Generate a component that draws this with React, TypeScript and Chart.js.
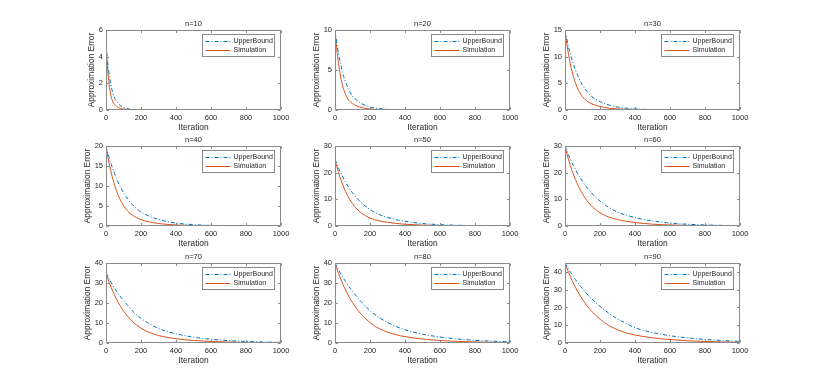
import React, { useEffect, useRef } from 'react';
import { Chart, registerables } from 'chart.js';

Chart.register(...registerables);

// ---------- data ----------
const ITERATIONS = [0, 5, 10, 20, 30, 40, 50, 60, 80, 100, 125, 150, 200, 250, 300, 350, 400, 500, 600, 700, 800, 900, 1000];
const X_TICKS = [0, 200, 400, 600, 800, 1000];
const PANEL_TITLES = ['n=10', 'n=20', 'n=30', 'n=40', 'n=50', 'n=60', 'n=70', 'n=80', 'n=90'];
const Y_MAX = [6, 10, 15, 20, 30, 30, 40, 40, 45];
const Y_STEP = [2, 5, 5, 5, 10, 10, 10, 10, 10];
const SERIES_NAMES = ['UpperBound', 'Simulation'];

const UPPER_N10 = [5.0, 4.2, 3.53, 2.49, 1.75, 1.24, 0.87, 0.65, 0.35, 0.19, 0.09, 0.04, 0.01, 0, 0, 0, 0, 0, 0, 0, 0, 0, 0];
const SIM_N10 = [5.0, 3.8, 2.9, 1.68, 0.98, 0.6, 0.4, 0.28, 0.13, 0.07, 0.03, 0.02, 0.01, 0, 0, 0, 0, 0, 0, 0, 0, 0, 0];
const UPPER_N20 = [10.0, 9.16, 8.39, 7.05, 5.92, 4.97, 4.17, 3.5, 2.47, 1.74, 1.21, 0.82, 0.37, 0.18, 0.08, 0.04, 0.02, 0.01, 0, 0, 0, 0, 0];
const SIM_N20 = [10.0, 8.7, 7.6, 5.8, 4.4, 3.35, 2.55, 1.95, 1.2, 0.8, 0.5, 0.32, 0.13, 0.06, 0.03, 0.02, 0.01, 0, 0, 0, 0, 0, 0];
const UPPER_N30 = [15.0, 14.15, 13.35, 11.88, 10.58, 9.41, 8.37, 7.46, 5.9, 4.67, 3.5, 2.61, 1.58, 0.95, 0.56, 0.33, 0.2, 0.08, 0.03, 0.02, 0.01, 0, 0];
const SIM_N30 = [15.0, 13.67, 12.48, 10.43, 8.7, 7.25, 6.03, 5.03, 3.5, 2.49, 1.68, 1.2, 0.65, 0.35, 0.2, 0.12, 0.07, 0.03, 0.02, 0.01, 0, 0, 0];
const UPPER_N40 = [20.0, 19.14, 18.32, 16.78, 15.38, 14.1, 12.92, 11.84, 9.94, 8.34, 6.7, 5.38, 3.48, 2.4, 1.63, 1.1, 0.74, 0.34, 0.16, 0.08, 0.04, 0.02, 0.01];
const SIM_N40 = [20.0, 18.66, 17.4, 15.2, 13.28, 11.6, 10.1, 8.8, 6.7, 5.1, 3.66, 2.72, 1.6, 1.0, 0.62, 0.4, 0.26, 0.12, 0.06, 0.03, 0.02, 0.01, 0];
const UPPER_N50 = [25.0, 24.15, 23.3, 21.73, 20.28, 18.9, 17.63, 16.43, 14.28, 12.43, 10.43, 8.75, 6.18, 4.35, 3.25, 2.38, 1.75, 0.93, 0.5, 0.27, 0.15, 0.09, 0.05];
const SIM_N50 = [25.0, 23.65, 22.38, 20.05, 18.0, 16.15, 14.5, 12.98, 10.43, 8.38, 6.38, 4.88, 3.0, 2.0, 1.38, 0.95, 0.65, 0.33, 0.18, 0.1, 0.06, 0.04, 0.03];
const UPPER_N60 = [30.0, 29.13, 28.29, 26.7, 25.17, 23.76, 22.41, 21.15, 18.81, 16.74, 14.46, 12.51, 9.33, 6.99, 5.22, 4.08, 3.15, 1.89, 1.11, 0.66, 0.4, 0.24, 0.15];
const SIM_N60 = [30.0, 28.65, 27.33, 24.96, 22.8, 20.85, 19.05, 17.4, 14.49, 12.06, 9.6, 7.65, 4.98, 3.36, 2.4, 1.76, 1.29, 0.69, 0.39, 0.23, 0.14, 0.09, 0.06];
const UPPER_N70 = [35.0, 34.13, 33.29, 31.68, 30.14, 28.67, 27.27, 25.94, 23.45, 21.25, 18.73, 16.2, 12.3, 9.5, 7.3, 5.7, 4.6, 2.9, 1.85, 1.2, 0.78, 0.5, 0.33];
const SIM_N70 = [35.0, 33.64, 32.31, 29.86, 27.65, 25.59, 23.66, 21.91, 18.76, 16.03, 13.2, 10.85, 7.39, 5.18, 3.75, 2.8, 2.14, 1.26, 0.75, 0.46, 0.29, 0.19, 0.13];
const UPPER_N80 = [40.0, 39.12, 38.28, 36.64, 35.08, 33.56, 32.16, 30.76, 28.2, 25.84, 23.16, 20.6, 16.2, 12.9, 10.3, 8.2, 6.6, 4.4, 3.0, 2.0, 1.35, 0.92, 0.62];
const SIM_N80 = [40.0, 38.64, 37.32, 34.8, 32.52, 30.4, 28.4, 26.56, 23.2, 20.2, 17.0, 14.36, 10.2, 7.32, 5.44, 4.12, 3.2, 2.0, 1.24, 0.8, 0.52, 0.35, 0.24];
const UPPER_N90 = [45.0, 44.15, 43.29, 41.63, 40.05, 38.52, 37.04, 35.64, 32.99, 30.51, 27.68, 25.11, 20.66, 16.8, 13.5, 11.0, 8.6, 5.9, 4.1, 2.9, 2.0, 1.4, 0.9];
const SIM_N90 = [45.0, 43.61, 42.3, 39.78, 37.44, 35.24, 33.17, 31.28, 27.72, 24.53, 21.06, 18.09, 13.37, 9.9, 7.47, 5.72, 4.5, 2.93, 1.94, 1.27, 0.86, 0.59, 0.41];

const UPPER = [UPPER_N10, UPPER_N20, UPPER_N30, UPPER_N40, UPPER_N50, UPPER_N60, UPPER_N70, UPPER_N80, UPPER_N90];
const SIM = [SIM_N10, SIM_N20, SIM_N30, SIM_N40, SIM_N50, SIM_N60, SIM_N70, SIM_N80, SIM_N90];

// ---------- layout / style ----------
const COL_LEFT = [106, 335, 565];
const ROW_TOP = [30, 146, 263];
const PLOT_W = 175;
const PLOT_H = 80;
const PAD_L = 45;
const PAD_T = 22;
const PAD_R = 20;
const PAD_B = 36;
const CANVAS_W = PLOT_W + PAD_L + PAD_R;
const CANVAS_H = PLOT_H + PAD_T + PAD_B;

const FONT = "'Liberation Sans', Arial, Helvetica, sans-serif";
const TICK_SIZE = 7.5;
const BLUE = '#0072BD';
const ORANGE = '#D95319';
const AXIS_COLOR = '#8a8a8a';
const TEXT_COLOR = '#262626';

const matlabPlugin = {
  id: 'matlab',
  afterDatasetsDraw(chart: any) {
    const { ctx, chartArea: a, scales } = chart;
    const opts = chart.options.plugins.matlab || {};
    ctx.save();
    // frame
    ctx.strokeStyle = AXIS_COLOR;
    ctx.lineWidth = 1;
    ctx.setLineDash([]);
    const L = Math.round(a.left) + 0.5;
    const R = Math.round(a.right) - 0.5;
    const T = Math.round(a.top) + 0.5;
    const B = Math.round(a.bottom) - 0.5;
    ctx.strokeRect(L, T, R - L, B - T);
    // inward ticks
    const tl = 2.5;
    ctx.beginPath();
    scales.x.ticks.forEach((t: any) => {
      const px = Math.round(scales.x.getPixelForValue(t.value)) + 0.5;
      ctx.moveTo(px, B); ctx.lineTo(px, B - tl);
      ctx.moveTo(px, T); ctx.lineTo(px, T + tl);
    });
    scales.y.ticks.forEach((t: any) => {
      const py = Math.round(scales.y.getPixelForValue(t.value)) + 0.5;
      ctx.moveTo(L, py); ctx.lineTo(L + tl, py);
      ctx.moveTo(R, py); ctx.lineTo(R - tl, py);
    });
    ctx.stroke();

    // legend
    const bw = 72, bh = 22;
    const bx = Math.round(a.right) - 7 - bw + 0.5;
    const by = Math.round(a.top) + 4 + 0.5;
    ctx.fillStyle = '#ffffff';
    ctx.fillRect(bx, by, bw, bh);
    ctx.strokeStyle = AXIS_COLOR;
    ctx.strokeRect(bx, by, bw, bh);
    const rows = [by + 7, by + 16];
    ctx.lineWidth = 1;
    ctx.strokeStyle = BLUE;
    ctx.setLineDash([4, 2, 1, 2]);
    ctx.beginPath(); ctx.moveTo(bx + 3, rows[0]); ctx.lineTo(bx + 28, rows[0]); ctx.stroke();
    ctx.strokeStyle = ORANGE;
    ctx.setLineDash([]);
    ctx.beginPath(); ctx.moveTo(bx + 3, rows[1]); ctx.lineTo(bx + 28, rows[1]); ctx.stroke();
    ctx.fillStyle = TEXT_COLOR;
    ctx.font = `7px ${FONT}`;
    ctx.textAlign = 'left';
    ctx.textBaseline = 'middle';
    ctx.fillText(SERIES_NAMES[0], bx + 31, rows[0]);
    ctx.fillText(SERIES_NAMES[1], bx + 31, rows[1]);

    // title
    ctx.font = `7.5px ${FONT}`;
    ctx.textAlign = 'center';
    ctx.fillText(opts.title || '', (a.left + a.right) / 2, a.top - 6);

    // y-label offset depends on widest tick label
    ctx.font = `${TICK_SIZE}px ${FONT}`;
    let maxW = 0;
    scales.y.ticks.forEach((t: any) => {
      const w = ctx.measureText(String(t.label ?? t.value)).width;
      if (w > maxW) maxW = w;
    });

    // axis titles
    ctx.font = `8.4px ${FONT}`;
    ctx.fillText('Iteration', (a.left + a.right) / 2, a.bottom + 18);
    ctx.save();
    ctx.translate(a.left - (3 + maxW + 3 + 3.8), (a.top + a.bottom) / 2);
    ctx.rotate(-Math.PI / 2);
    ctx.fillText('Approximation Error', 0, 0);
    ctx.restore();
    ctx.restore();
  },
};

function Panel({ idx }: { idx: number }) {
  const ref = useRef<HTMLCanvasElement | null>(null);
  const r = Math.floor(idx / 3);
  const c = idx % 3;
  useEffect(() => {
    if (!ref.current) return;
    const tickFont = { family: FONT, size: TICK_SIZE };
    const chart = new Chart(ref.current, {
      type: 'line',
      data: {
        datasets: [
          {
            label: SERIES_NAMES[0],
            data: ITERATIONS.map((x, i) => ({ x, y: UPPER[idx][i] })),
            borderColor: BLUE,
            borderWidth: 1,
            borderDash: [4, 2, 1, 2],
            pointRadius: 0,
            cubicInterpolationMode: 'monotone',
            fill: false,
          },
          {
            label: SERIES_NAMES[1],
            data: ITERATIONS.map((x, i) => ({ x, y: SIM[idx][i] })),
            borderColor: ORANGE,
            borderWidth: 1,
            pointRadius: 0,
            cubicInterpolationMode: 'monotone',
            fill: false,
          },
        ],
      },
      options: {
        responsive: false,
        animation: false,
        devicePixelRatio: 1,
        layout: { padding: { left: 0, top: PAD_T, right: PAD_R, bottom: 0 } },
        plugins: {
          legend: { display: false },
          tooltip: { enabled: false },
          title: { display: false },
          matlab: { title: PANEL_TITLES[idx] },
        } as any,
        scales: {
          x: {
            type: 'linear',
            min: X_TICKS[0],
            max: X_TICKS[X_TICKS.length - 1],
            grid: { display: false, drawTicks: false },
            border: { display: false },
            afterBuildTicks: (s: any) => { s.ticks = X_TICKS.map((v) => ({ value: v })); },
            ticks: {
              padding: 3,
              font: tickFont,
              color: TEXT_COLOR,
              maxRotation: 0,
              autoSkip: false,
              callback: (v: any) => String(v),
            },
            afterFit: (s: any) => { s.height = PAD_B; },
          },
          y: {
            type: 'linear',
            min: 0,
            max: Y_MAX[idx],
            grid: { display: false, drawTicks: false },
            border: { display: false },
            ticks: {
              stepSize: Y_STEP[idx],
              includeBounds: false,
              padding: 3,
              font: tickFont,
              color: TEXT_COLOR,
              callback: (v: any) => String(v),
            },
            afterFit: (s: any) => { s.width = PAD_L; },
          },
        },
      } as any,
      plugins: [matlabPlugin],
    });
    return () => chart.destroy();
  }, [idx]);
  return (
    <canvas
      ref={ref}
      width={CANVAS_W}
      height={CANVAS_H}
      style={{
        position: 'absolute',
        left: COL_LEFT[c] - PAD_L,
        top: ROW_TOP[r] - PAD_T,
        width: CANVAS_W,
        height: CANVAS_H,
      }}
    />
  );
}

export default function App() {
  return (
    <div style={{ position: 'absolute', left: 0, top: 0, width: 817, height: 388, background: '#ffffff', overflow: 'hidden' }}>
      {PANEL_TITLES.map((t, i) => (
        <Panel key={t} idx={i} />
      ))}
    </div>
  );
}
